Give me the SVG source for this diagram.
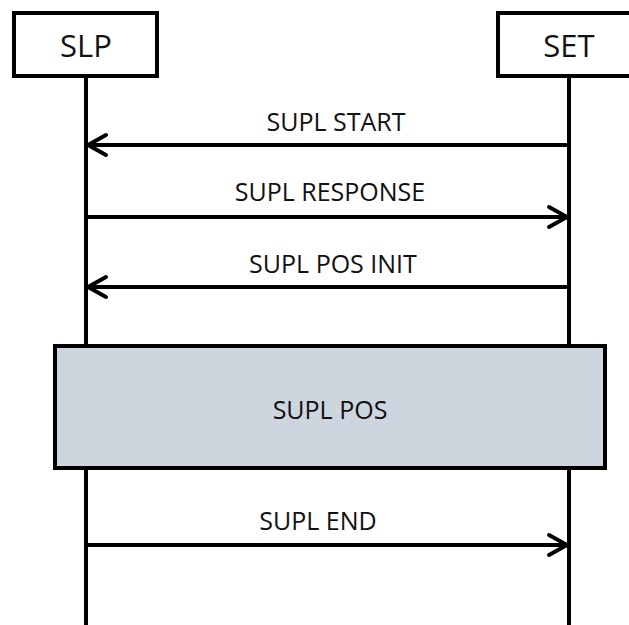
<svg xmlns="http://www.w3.org/2000/svg" width="629" height="625" viewBox="0 0 629 625">
<style>
.box{fill:#fff;stroke:#000;stroke-width:4}
.life{stroke:#000;stroke-width:4;fill:none}
.msg{stroke:#000;stroke-width:4;fill:none}
.head{stroke:#000;stroke-width:4;fill:none;stroke-linecap:round;stroke-linejoin:miter}
.t{font-family:"Open Sans","Liberation Sans",sans-serif;fill:#111;text-anchor:middle}
.lbl{font-size:25px}
.hdr{font-size:31px}
</style>
<rect width="629" height="625" fill="#fff"/>
<g id="lifelines">
<line class="life" x1="86" y1="77" x2="86" y2="625"/>
<line class="life" x1="569" y1="77" x2="569" y2="625"/>
</g>
<g id="SLP">
<rect class="box" x="14" y="13" width="143" height="63"/>
<text class="t hdr" x="86" y="57">SLP</text>
</g>
<g id="SET">
<rect class="box" x="498" y="13" width="140" height="63"/>
<text class="t hdr" x="569" y="57">SET</text>
</g>
<g id="SUPL_POS">
<rect x="55" y="346" width="550" height="122" fill="#cdd5df" stroke="#000" stroke-width="4"/>
<text class="t lbl" x="330" y="419">SUPL POS</text>
</g>
<g id="connectors">
<line class="msg" x1="569" y1="145" x2="88" y2="145"/>
<polyline class="head" points="106,135 88,145 106,155"/>
<text class="t lbl" x="336" y="131">SUPL START</text>
<line class="msg" x1="86" y1="217" x2="567" y2="217"/>
<polyline class="head" points="549,207 567,217 549,227"/>
<text class="t lbl" x="330" y="201">SUPL RESPONSE</text>
<line class="msg" x1="569" y1="287" x2="88" y2="287"/>
<polyline class="head" points="106,277 88,287 106,297"/>
<text class="t lbl" x="333" y="273">SUPL POS INIT</text>
<line class="msg" x1="86" y1="545" x2="567" y2="545"/>
<polyline class="head" points="549,535 567,545 549,555"/>
<text class="t lbl" x="318" y="530">SUPL END</text>
</g>
</svg>
